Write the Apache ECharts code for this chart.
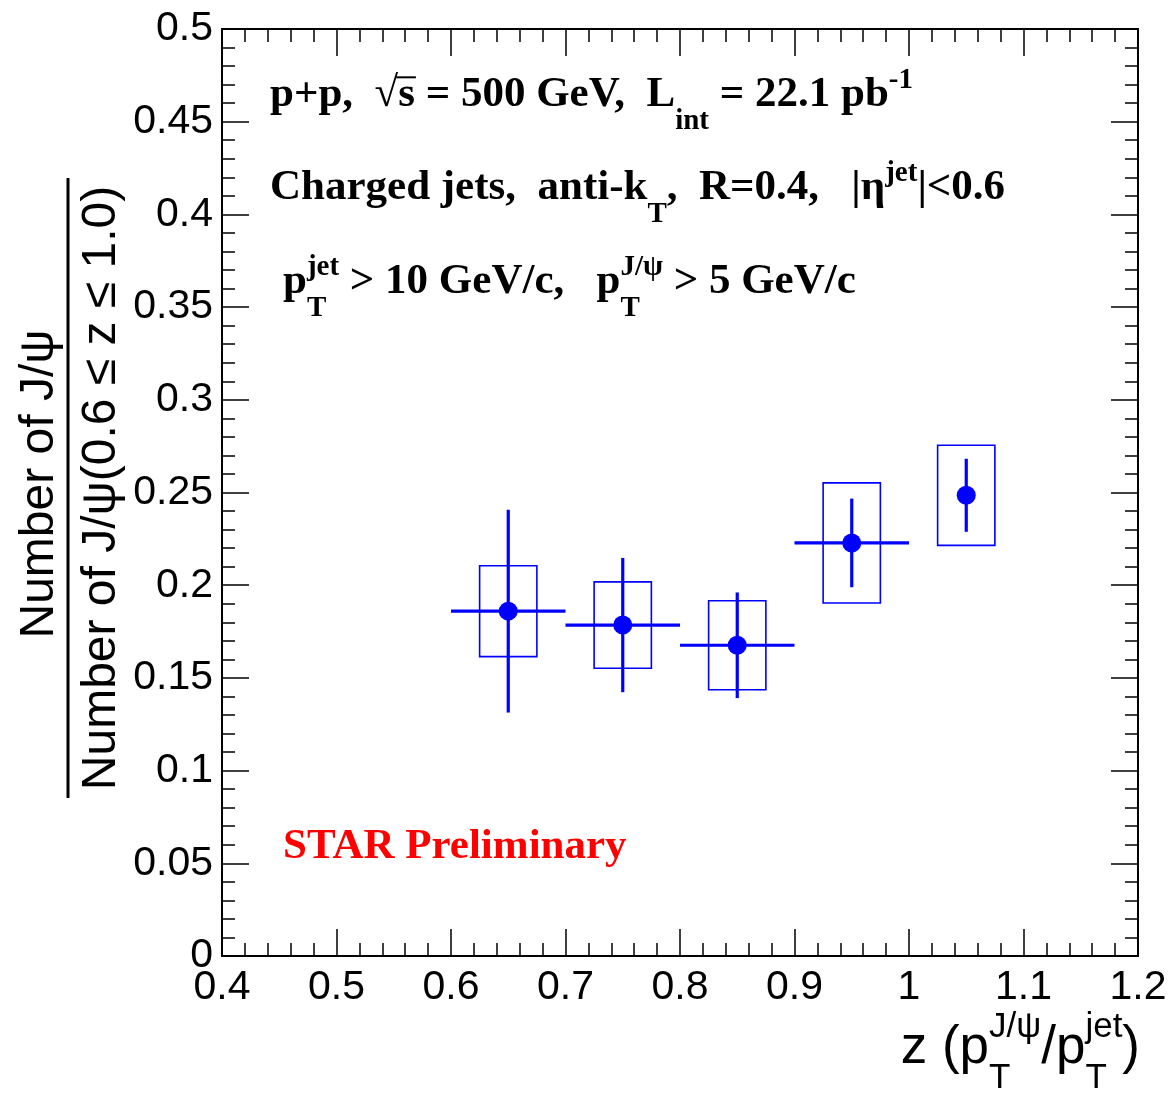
<!DOCTYPE html>
<html>
<head>
<meta charset="utf-8">
<script src="https://cdn.jsdelivr.net/npm/echarts@6/dist/echarts.min.js"></script>
<style>
  html, body { margin: 0; padding: 0; background: #ffffff; }
  #chart { width: 1170px; height: 1095px; }
</style>
</head>
<body>
<div id="chart"></div>
<script>
// J/psi fragmentation in charged jets: fraction per z bin
const zCenters     = [0.65, 0.75, 0.85, 0.95, 1.05];
const ratio        = [0.186, 0.1785, 0.1676, 0.2228, 0.2485];
const statErr      = [0.0547, 0.0362, 0.0285, 0.0239, 0.0197];
const sysErr       = [0.0245, 0.0233, 0.0240, 0.0324, 0.0270];
const binHalfWidth = [0.05, 0.05, 0.05, 0.05, 0];
const sysHalfWidth = [0.025, 0.025, 0.025, 0.025, 0.025];

const xTickLabels = ['0.4', '0.5', '0.6', '0.7', '0.8', '0.9', '1', '1.1', '1.2'];
const yTickLabels = ['0', '0.05', '0.1', '0.15', '0.2', '0.25', '0.3', '0.35', '0.4', '0.45', '0.5'];

const BLUE = '#0000ff';
const SANS = '"Liberation Sans", Arial, Helvetica, sans-serif';
const SERIF = '"Liberation Serif", "Times New Roman", serif';

// ---------- small text layout helper (sub/superscripts) ----------
const measureCtx = document.createElement('canvas').getContext('2d');
function measure(text, font) { measureCtx.font = font; return measureCtx.measureText(text).width; }
const MID = 0.34; // distance from baseline to the "middle" anchor, in em

function textEl(text, x, baseline, size, font, color) {
  return {
    type: 'text', x: x, y: baseline - MID * size, silent: true,
    style: { text: text, font: font, fill: color, textAlign: 'left', textVerticalAlign: 'middle' }
  };
}

// tokens: plain strings, {sub, sup} (stacked), or {t, bar} (text with overline)
function layoutLine(tokens, o) {
  const size = o.size, small = Math.round(size * (o.scriptScale || 0.7));
  const font = `${o.weight || 'normal'} ${size}px ${o.family}`;
  const sfont = `${o.weight || 'normal'} ${small}px ${o.family}`;
  const subDy = (o.subDy != null ? o.subDy : 0.5) * size;
  const supDy = -(o.supDy != null ? o.supDy : 0.45) * size;
  const children = [];
  let x = 0;
  tokens.forEach(tok => {
    if (typeof tok === 'string') {
      children.push(textEl(tok, x, 0, size, font, o.color));
      x += measure(tok, font);
    } else if (tok.t != null) {
      const w = measure(tok.t, font);
      children.push(textEl(tok.t, x, 0, size, font, o.color));
      if (tok.bar) {
        children.push({ type: 'line', silent: true,
          shape: { x1: x - 2, y1: -0.76 * size, x2: x + w + 1, y2: -0.76 * size },
          style: { stroke: o.color, lineWidth: 2 } });
      }
      x += w;
    } else {
      let w = 0;
      if (tok.sub) {
        children.push(textEl(tok.sub, x + (tok.subShift || 0), subDy, small, sfont, o.color));
        w = Math.max(w, measure(tok.sub, sfont) + (tok.subShift || 0));
      }
      if (tok.sup) {
        children.push(textEl(tok.sup, x + (tok.supShift || 0), supDy, small, sfont, o.color));
        w = Math.max(w, measure(tok.sup, sfont) + (tok.supShift || 0));
      }
      x += w;
    }
  });
  return { children: children, width: x };
}

function placedLine(tokens, o, left, baseline, alignRight) {
  const L = layoutLine(tokens, o);
  return { type: 'group', x: alignRight ? left - L.width : left, y: baseline, silent: true, children: L.children };
}

// ---------- annotation texts ----------
const annoStyle = { size: 43, family: SERIF, weight: 'bold', color: '#000000', scriptScale: 0.68 };
const line1 = ['p+p,  ', '\u221A', { t: 's', bar: true }, ' = 500 GeV,  L', { sub: 'int' }, ' = 22.1 pb', { sup: '-1' }];
const line2 = ['Charged jets,  anti-k', { sub: 'T' }, ',  R=0.4,   |\u03B7', { sup: 'jet' }, '|<0.6'];
const line3 = ['p', { sub: 'T', sup: 'jet' }, ' > 10 GeV/c,   p', { sub: 'T', sup: 'J/\u03C8' }, ' > 5 GeV/c'];
const xTitle = ['z (p', { sub: 'T', sup: 'J/\u03C8' }, '/p', { sub: 'T', sup: 'jet' }, ')'];

const graphics = [
  placedLine(line1, annoStyle, 270, 110),
  placedLine(line2, annoStyle, 270, 203),
  placedLine(line3, annoStyle, 283, 297),
  placedLine(['STAR Preliminary'], { size: 43, family: SERIF, weight: 'bold', color: '#ff0000' }, 283, 862),
  placedLine(xTitle, { size: 53, family: SANS, color: '#000000', scriptScale: 0.66, subDy: 0.45, supDy: 0.5 }, 1140, 1066, true),
  // y-axis title drawn as a fraction
  {
    type: 'text', x: 40, y: 484, rotation: Math.PI / 2, silent: true,
    style: { text: 'Number of J/\u03C8', font: `48px ${SANS}`, fill: '#000', textAlign: 'center', textVerticalAlign: 'middle' }
  },
  {
    type: 'line', silent: true,
    shape: { x1: 68, y1: 178, x2: 68, y2: 798 },
    style: { stroke: '#000', lineWidth: 3 }
  },
  {
    type: 'text', x: 102, y: 488, rotation: Math.PI / 2, silent: true,
    style: { text: 'Number of J/\u03C8(0.6 \u2264 z \u2264 1.0)', font: `48px ${SANS}`, fill: '#000', textAlign: 'center', textVerticalAlign: 'middle' }
  }
];

// ---------- series data ----------
const pointData = zCenters.map((z, i) => [z, ratio[i]]);
const boxData   = zCenters.map((z, i) => [z, ratio[i], sysErr[i], sysHalfWidth[i]]);
const errData   = zCenters.map((z, i) => [z, ratio[i], statErr[i], binHalfWidth[i]]);

const axisLineStyle = { color: '#000', width: 2 };
const tickStyle = { color: '#000', width: 1.5 };

function frameAxis(extra) {
  return Object.assign({
    type: 'value',
    axisLine: { show: true, onZero: false, lineStyle: axisLineStyle },
    axisTick: { show: true, inside: true, length: 27, lineStyle: tickStyle },
    minorTick: { show: true, splitNumber: 5, length: 13, lineStyle: tickStyle },
    splitLine: { show: false },
    minorSplitLine: { show: false }
  }, extra);
}

const option = {
  animation: false,
  backgroundColor: '#ffffff',
  grid: { left: 222, right: 32, top: 29, bottom: 139, containLabel: false, outerBoundsMode: 'none' },
  xAxis: [
    frameAxis({
      position: 'bottom', min: 0.4, max: 1.2, interval: 0.1,
      axisLabel: {
        show: true, margin: 11, color: '#000', fontSize: 41, fontFamily: SANS,
        formatter: v => xTickLabels[Math.round((v - 0.4) / 0.1)]
      }
    }),
    frameAxis({ position: 'top', min: 0.4, max: 1.2, interval: 0.1, axisLabel: { show: false } })
  ],
  yAxis: [
    frameAxis({
      position: 'left', min: 0, max: 0.5, interval: 0.05,
      axisLabel: {
        show: true, margin: 9, color: '#000', fontSize: 41, fontFamily: SANS,
        formatter: v => yTickLabels[Math.round(v / 0.05)]
      }
    }),
    frameAxis({ position: 'right', min: 0, max: 0.5, interval: 0.05, axisLabel: { show: false } })
  ],
  graphic: graphics,
  series: [
    {
      // systematic uncertainty boxes
      type: 'custom', xAxisIndex: 0, yAxisIndex: 0, silent: true,
      data: boxData,
      renderItem: (params, api) => {
        const x = api.value(0), y = api.value(1), s = api.value(2), hw = api.value(3);
        const a = api.coord([x - hw, y + s]);
        const b = api.coord([x + hw, y - s]);
        return {
          type: 'rect',
          shape: { x: a[0], y: a[1], width: b[0] - a[0], height: b[1] - a[1] },
          style: { fill: 'none', stroke: BLUE, lineWidth: 1.6 }
        };
      },
      z: 2
    },
    {
      // statistical error bars and bin widths
      type: 'custom', xAxisIndex: 0, yAxisIndex: 0, silent: true,
      data: errData,
      renderItem: (params, api) => {
        const x = api.value(0), y = api.value(1), e = api.value(2), hw = api.value(3);
        const top = api.coord([x, y + e]);
        const bot = api.coord([x, y - e]);
        const children = [{
          type: 'line',
          shape: { x1: top[0], y1: top[1], x2: bot[0], y2: bot[1] },
          style: { stroke: BLUE, lineWidth: 3.2 }
        }];
        if (hw > 0) {
          const l = api.coord([x - hw, y]);
          const r = api.coord([x + hw, y]);
          children.push({
            type: 'line',
            shape: { x1: l[0], y1: l[1], x2: r[0], y2: r[1] },
            style: { stroke: BLUE, lineWidth: 3.2 }
          });
        }
        return { type: 'group', children: children };
      },
      z: 3
    },
    {
      type: 'scatter', xAxisIndex: 0, yAxisIndex: 0, silent: true,
      data: pointData,
      symbol: 'circle', symbolSize: 19,
      itemStyle: { color: BLUE, opacity: 1 },
      z: 4
    }
  ]
};

const chart = echarts.init(document.getElementById('chart'), null, { renderer: 'canvas' });
chart.setOption(option);
</script>
</body>
</html>
